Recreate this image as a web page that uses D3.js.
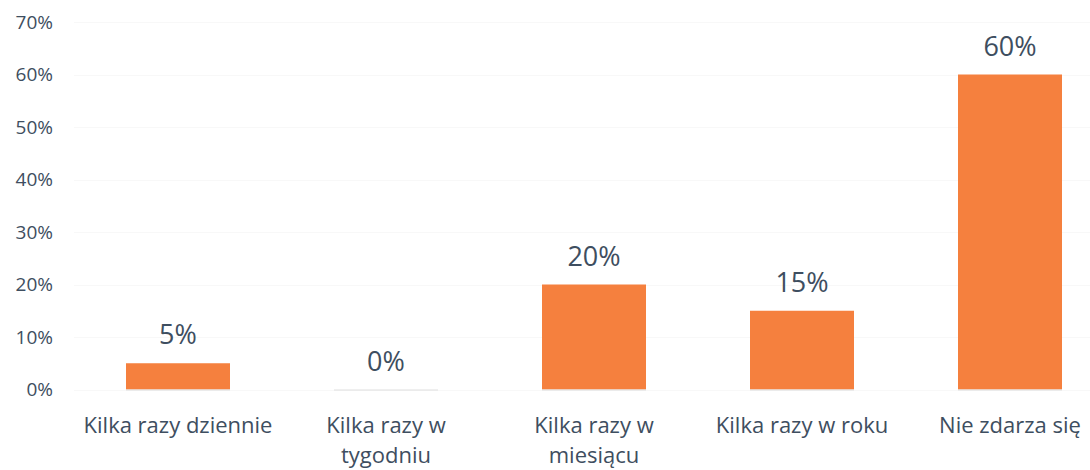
<!DOCTYPE html>
<html>
<head>
<meta charset="utf-8">
<script src="https://cdn.jsdelivr.net/npm/d3@7"></script>
<style>
  body { margin: 0; background: #fff; }
  text { font-family: "Open Sans", Lato, sans-serif; fill: #3e4e60; }
</style>
</head>
<body>
<div id="chart"></div>
<script>
// data
var categories = ["Kilka razy dziennie", "Kilka razy w tygodniu", "Kilka razy w miesiącu", "Kilka razy w roku", "Nie zdarza się"];
var labelLines = [["Kilka razy dziennie"], ["Kilka razy w", "tygodniu"], ["Kilka razy w", "miesiącu"], ["Kilka razy w roku"], ["Nie zdarza się"]];
var values = [5, 0, 20, 15, 60];
var yTicks = [0, 10, 20, 30, 40, 50, 60, 70];

var svgWidth = 1090;
var svgHeight = 470;

var svg = d3.select("#chart")
  .append("svg")
  .attr("width", svgWidth)
  .attr("height", svgHeight);

// scales
var x = d3.scaleBand()
  .domain(categories)
  .range([74, 1114])
  .paddingInner(0.5)
  .paddingOuter(0.25);

var y = d3.scaleLinear()
  .domain([0, 70])
  .range([389.5, 22]);

// very faint grid, like the scan
svg.append("g")
  .selectAll("line")
  .data(yTicks)
  .enter().append("line")
  .attr("x1", 74)
  .attr("x2", svgWidth)
  .attr("y1", function(d) { return Math.round(y(d)) + 0.5; })
  .attr("y2", function(d) { return Math.round(y(d)) + 0.5; })
  .attr("stroke", "#f8f8f8")
  .attr("stroke-width", 1);

// y axis labels
var leftAxis = d3.axisLeft(y)
  .tickValues(yTicks)
  .tickSize(0)
  .tickPadding(0)
  .tickFormat(function(d) { return d + "%"; });

var yAxis = svg.append("g")
  .attr("transform", "translate(53,0)")
  .call(leftAxis);
yAxis.select(".domain").remove();
yAxis.selectAll("text")
  .style("font-size", "19px")
  .attr("fill", "#3e4e60");

// bars
svg.append("g")
  .selectAll("rect")
  .data(values)
  .enter().append("rect")
  .attr("x", function(d, i) { return x(categories[i]); })
  .attr("y", function(d) { return y(d); })
  .attr("width", x.bandwidth())
  .attr("height", function(d) { return y(0) - y(d); })
  .attr("fill", "#f5803e");

// baseline under bars
svg.append("g")
  .selectAll("line")
  .data(values)
  .enter().append("line")
  .attr("x1", function(d, i) { return x(categories[i]); })
  .attr("x2", function(d, i) { return x(categories[i]) + x.bandwidth(); })
  .attr("y1", y(0) + 0.5)
  .attr("y2", y(0) + 0.5)
  .attr("stroke", "#dedede");

// value labels
svg.append("g")
  .selectAll("text")
  .data(values)
  .enter().append("text")
  .attr("x", function(d, i) { return x(categories[i]) + x.bandwidth() / 2; })
  .attr("y", function(d) { return y(d) - 19; })
  .attr("text-anchor", "middle")
  .style("font-size", "27px")
  .text(function(d) { return d + "%"; });

// category labels, one text per line
var cat = svg.append("g")
  .selectAll("g")
  .data(labelLines)
  .enter().append("g")
  .attr("transform", function(d, i) {
    return "translate(" + (x(categories[i]) + x.bandwidth() / 2) + ",433)";
  });

cat.selectAll("text")
  .data(function(d) { return d; })
  .enter().append("text")
  .attr("text-anchor", "middle")
  .style("font-size", "22px")
  .attr("y", function(d, i) { return i * 30; })
  .text(function(d) { return d; });
</script>
</body>
</html>
